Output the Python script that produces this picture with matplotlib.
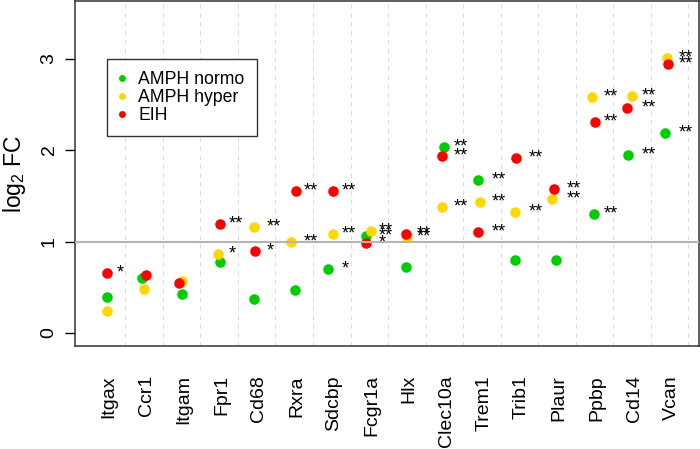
import matplotlib.pyplot as plt
from matplotlib.lines import Line2D

plt.rcParams['font.family'] = ['Liberation Sans', 'DejaVu Sans']
plt.rcParams['mathtext.fontset'] = 'custom'
plt.rcParams['mathtext.rm'] = 'Liberation Sans'
plt.rcParams['mathtext.default'] = 'regular'

genes = ['Itgax', 'Ccr1', 'Itgam', 'Fpr1', 'Cd68', 'Rxra', 'Sdcbp', 'Fcgr1a',
         'Hlx', 'Clec10a', 'Trem1', 'Trib1', 'Plaur', 'Ppbp', 'Cd14', 'Vcan']

# log2 fold changes
normo = [0.39, 0.60, 0.43, 0.78, 0.37, 0.47, 0.70, 1.06,
         0.72, 2.03, 1.67, 0.80, 0.80, 1.30, 1.95, 2.19]
hyper = [0.24, 0.48, 0.57, 0.86, 1.16, 1.00, 1.08, 1.11,
         1.05, 1.38, 1.43, 1.32, 1.47, 2.58, 2.59, 3.01]
eih = [0.66, 0.63, 0.55, 1.19, 0.90, 1.55, 1.55, 0.98,
       1.08, 1.93, 1.10, 1.91, 1.57, 2.31, 2.46, 2.94]

# significance marks
normo_sig = ['', '', '', '', '', '', '*', '**',
             '', '**', '**', '', '', '**', '**', '**']
hyper_sig = ['', '', '', '*', '**', '**', '**', '**',
             '**', '**', '**', '**', '**', '**', '**', '**']
eih_sig = ['*', '', '', '**', '*', '**', '**', '*',
           '**', '**', '**', '**', '**', '**', '**', '**']

# horizontal jitter of the points as seen in the chart
normo_jit = [-0.04, -0.13, -0.05, -0.03, -0.14, -0.04, -0.15, -0.16,
             -0.09, -0.08, -0.15, -0.17, -0.09, -0.07, -0.17, -0.19]
hyper_jit = [-0.04, -0.06, -0.06, -0.08, -0.13, -0.15, -0.02, -0.02,
             -0.06, -0.13, -0.10, -0.17, -0.18, -0.11, -0.05, -0.13]
eih_jit = [-0.05, -0.02, -0.13, -0.04, -0.11, 0.00, -0.02, -0.15,
           -0.09, -0.11, -0.17, -0.15, -0.13, -0.04, -0.19, -0.09]

series = [
    ('AMPH normo', '#00CD00', normo, normo_sig, normo_jit),
    ('AMPH hyper', '#FFD700', hyper, hyper_sig, hyper_jit),
    ('EIH', '#FF0000', eih, eih_sig, eih_jit),
]

fig = plt.figure(figsize=(7, 4.49), dpi=100)
ax = fig.add_axes([0.107, 0.2294, 0.8916, 0.7686])

pos = list(range(1, len(genes) + 1))

for p in pos:
    ax.axvline(p + 0.44, color='#DCDCDC', lw=0.8, ls=(0, (4, 4)), zorder=1)

for name, col, vals, sig, jit in series:
    xs = [p + j for p, j in zip(pos, jit)]
    ax.plot(xs, vals, 'o', color=col, markersize=7.6, markeredgewidth=0, zorder=3)
    for p, v, s in zip(pos, vals, sig):
        if s:
            ax.text(p + 0.2, v, s, ha='left', va='center', fontsize=13, zorder=4)

ax.axhline(1, color='#B4B4B4', lw=1.5, zorder=5)

ax.set_xlim(0.093, 16.73)
ax.set_ylim(-0.142, 3.63)
ax.set_xticks(pos)
ax.set_xticklabels(genes)
ax.set_yticks([0, 1, 2, 3])
ax.tick_params(axis='x', length=0, pad=21, labelsize=14, labelrotation=90)
ax.tick_params(axis='y', length=7, width=1, pad=5.5, labelsize=14, labelrotation=90)
for lab in ax.get_yticklabels():
    lab.set_va('center')

for sp in ax.spines.values():
    sp.set_color('#333333')
    sp.set_linewidth(1.1)

ax.set_ylabel(r'log$_2$ FC', fontsize=16.5, va='center')
ax.yaxis.set_label_coords(-0.096, 0.5)

handles = [Line2D([], [], marker='o', ls='', color=c, markersize=5, markeredgewidth=0, label=n)
           for n, c, *_ in series]
leg = ax.legend(handles=handles, loc='upper left', bbox_to_anchor=(0.051, 0.832),
                borderaxespad=0, fontsize=12.7, frameon=True, fancybox=False,
                framealpha=1, edgecolor='#333333', borderpad=0.7, labelspacing=0.05,
                handlelength=0.3, handletextpad=0.8)
leg.get_frame().set_linewidth(1.0)

fig.savefig('out.png', dpi=100)
